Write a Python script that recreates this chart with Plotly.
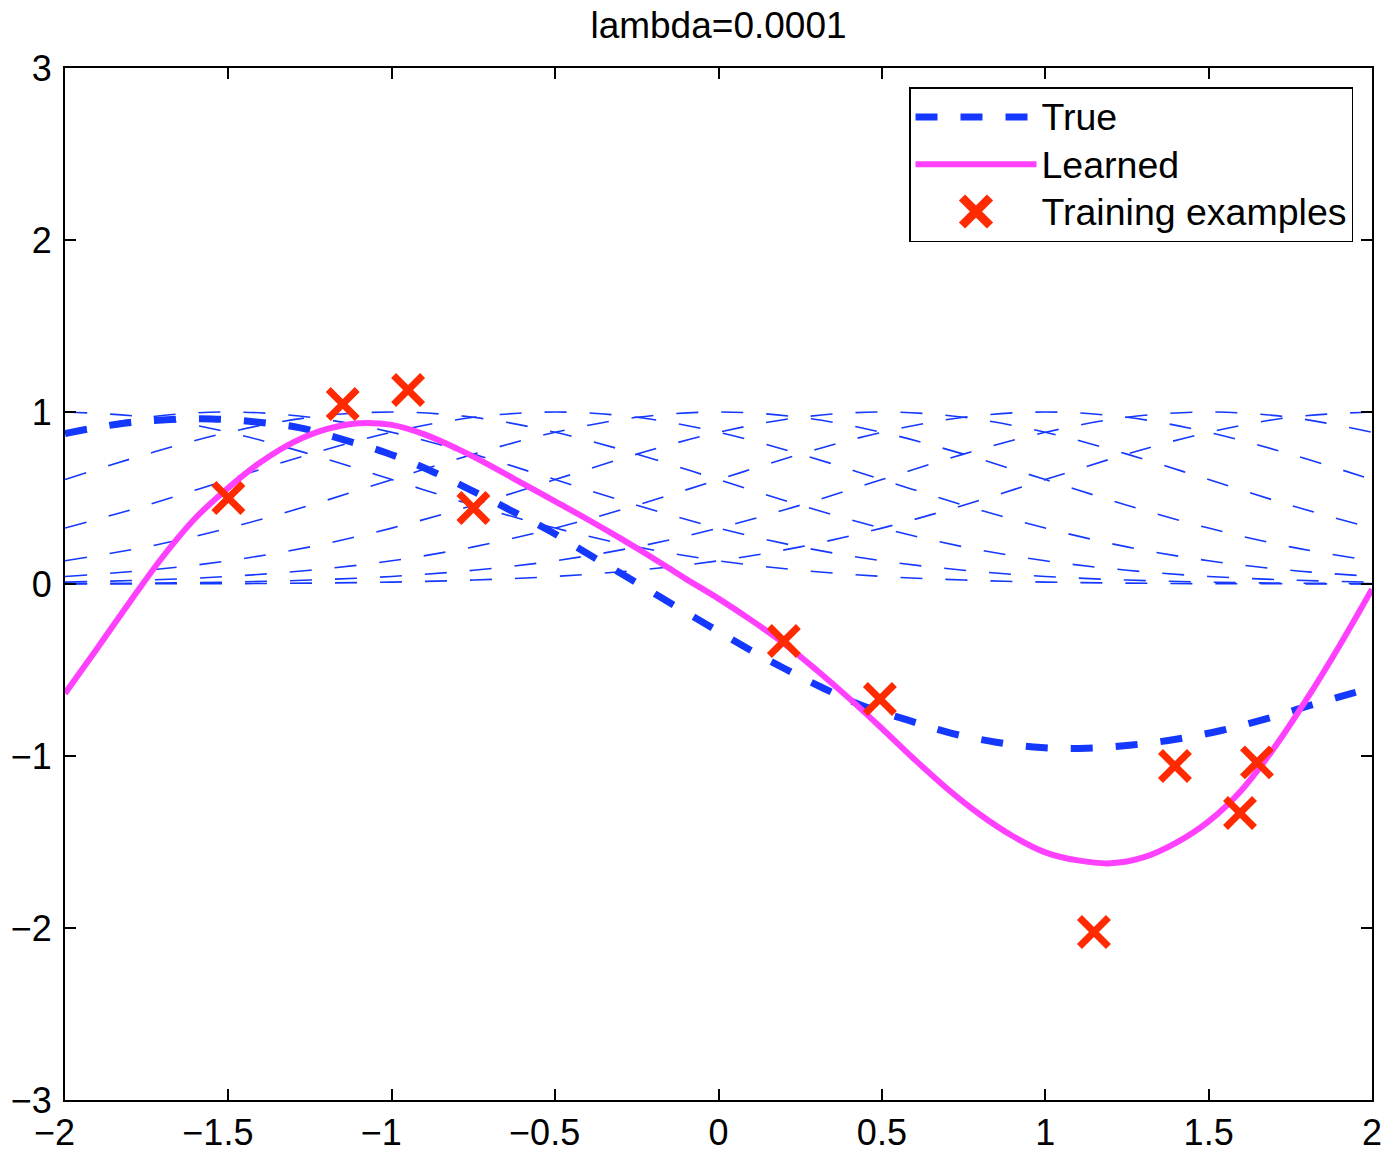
import plotly.graph_objects as go

# ---- data ----
basis_x = [-2.0, -1.75, -1.5, -1.25, -1.0, -0.75, -0.5, -0.25, 0.0,
           0.25, 0.5, 0.75, 1.0, 1.25, 1.5, 1.75, 2.0]

basis_c_m2_0 = [1.000, 0.969, 0.882, 0.755, 0.607, 0.458, 0.325, 0.216, 0.135, 0.080, 0.044, 0.023, 0.011, 0.005, 0.002, 0.001, 0.000]
basis_c_m1_5 = [0.882, 0.969, 1.000, 0.969, 0.882, 0.755, 0.607, 0.458, 0.325, 0.216, 0.135, 0.080, 0.044, 0.023, 0.011, 0.005, 0.002]
basis_c_m1_0 = [0.607, 0.755, 0.882, 0.969, 1.000, 0.969, 0.882, 0.755, 0.607, 0.458, 0.325, 0.216, 0.135, 0.080, 0.044, 0.023, 0.011]
basis_c_m0_5 = [0.325, 0.458, 0.607, 0.755, 0.882, 0.969, 1.000, 0.969, 0.882, 0.755, 0.607, 0.458, 0.325, 0.216, 0.135, 0.080, 0.044]
basis_c_0_0 = [0.135, 0.216, 0.325, 0.458, 0.607, 0.755, 0.882, 0.969, 1.000, 0.969, 0.882, 0.755, 0.607, 0.458, 0.325, 0.216, 0.135]
basis_c_0_5 = [0.044, 0.080, 0.135, 0.216, 0.325, 0.458, 0.607, 0.755, 0.882, 0.969, 1.000, 0.969, 0.882, 0.755, 0.607, 0.458, 0.325]
basis_c_1_0 = [0.011, 0.023, 0.044, 0.080, 0.135, 0.216, 0.325, 0.458, 0.607, 0.755, 0.882, 0.969, 1.000, 0.969, 0.882, 0.755, 0.607]
basis_c_1_5 = [0.002, 0.005, 0.011, 0.023, 0.044, 0.080, 0.135, 0.216, 0.325, 0.458, 0.607, 0.755, 0.882, 0.969, 1.000, 0.969, 0.882]
basis_c_2_0 = [0.000, 0.001, 0.002, 0.005, 0.011, 0.023, 0.044, 0.080, 0.135, 0.216, 0.325, 0.458, 0.607, 0.755, 0.882, 0.969, 1.000]

basis_series = [basis_c_m2_0, basis_c_m1_5, basis_c_m1_0, basis_c_m0_5, basis_c_0_0,
                basis_c_0_5, basis_c_1_0, basis_c_1_5, basis_c_2_0]

true_x = [-2.0, -1.83, -1.69, -1.55, -1.415, -1.28, -1.146, -1.015, -0.886, -0.761,
          -0.638, -0.516, -0.399, -0.28, -0.158, -0.034, 0.077, 0.2, 0.321, 0.435,
          0.58, 0.714, 0.85, 0.988, 1.127, 1.265, 1.40, 1.535, 1.670, 1.805, 1.938, 2.0]
true_y = [0.875, 0.932, 0.955, 0.960, 0.942, 0.908, 0.838, 0.762, 0.663, 0.549,
          0.43, 0.308, 0.174, 0.041, -0.099, -0.238, -0.362, -0.49, -0.606, -0.703,
          -0.792, -0.868, -0.920, -0.951, -0.955, -0.936, -0.903, -0.853, -0.787, -0.709, -0.636, -0.603]

learned_x = [-2.0, -1.9, -1.8, -1.7, -1.6, -1.5, -1.4, -1.3, -1.2, -1.1, -1.0, -0.9, -0.8,
             -0.7, -0.6, -0.5, -0.4, -0.3, -0.2, -0.1, 0.0, 0.1, 0.2, 0.3, 0.4, 0.5, 0.6,
             0.7, 0.8, 0.9, 1.0, 1.1, 1.2, 1.3, 1.4, 1.5, 1.6, 1.7, 1.8, 1.9, 2.0]
learned_y = [-0.636, -0.37, -0.10, 0.16, 0.385, 0.56, 0.71, 0.825, 0.90, 0.935, 0.925, 0.87, 0.787,
             0.69, 0.585, 0.48, 0.375, 0.265, 0.15, 0.03, -0.085, -0.21, -0.345, -0.50, -0.665, -0.84, -1.02,
             -1.19, -1.34, -1.465, -1.56, -1.607, -1.624, -1.59, -1.505, -1.38, -1.20, -0.955, -0.67, -0.36, -0.03]

train_x = [-1.50, -1.15, -0.95, -0.75, 0.20, 0.494, 1.149, 1.397, 1.596, 1.648]
train_y = [0.50, 1.047, 1.128, 0.442, -0.331, -0.669, -2.023, -1.058, -1.331, -1.037]

x_ticks = [-2, -1.5, -1, -0.5, 0, 0.5, 1, 1.5, 2]
x_tick_labels = ["\u22122", "\u22121.5", "\u22121", "\u22120.5", "0", "0.5", "1", "1.5", "2"]
y_ticks = [-3, -2, -1, 0, 1, 2, 3]

series_names = ["True", "Learned", "Training examples"]

FONT = "Liberation Sans, Arial, Helvetica, sans-serif"
BLUE = "#1538ff"
MAGENTA = "#ff40ff"
RED = "#ff2a00"

# MATLAB centres the digits on the tick and lets the minus sign hang to the left:
# pad negative labels with an invisible minus so the digits sit over the tick.
HIDDEN_MINUS = '<span style="color:rgba(0,0,0,0)">\u2212</span>'
x_tick_text = [t + HIDDEN_MINUS if t.startswith("\u2212") else t for t in x_tick_labels]

def legend_label(name):
    return '<span style="font-size:37.5px">' + name + "</span>"

fig = go.Figure()

for ys in basis_series:
    fig.add_trace(go.Scatter(
        x=basis_x, y=ys, mode="lines", showlegend=False, hoverinfo="skip",
        line=dict(color=BLUE, width=1.6, dash="22px,23px", shape="spline", smoothing=1.0),
    ))

fig.add_trace(go.Scatter(
    x=true_x, y=true_y, mode="lines", name=legend_label(series_names[0]),
    line=dict(color=BLUE, width=7, dash="22px,23px", shape="spline", smoothing=1.0),
))
fig.add_trace(go.Scatter(
    x=learned_x, y=learned_y, mode="lines", name=legend_label(series_names[1]),
    line=dict(color=MAGENTA, width=6, shape="spline", smoothing=1.0),
))
fig.add_trace(go.Scatter(
    x=train_x, y=train_y, mode="markers", name=legend_label(series_names[2]),
    marker=dict(symbol="x-thin", size=29, color=RED, line=dict(width=7, color=RED)),
))

axis_common = dict(
    showline=True, linecolor="black", linewidth=2, mirror="ticks",
    ticks="inside", ticklen=11, tickwidth=1.5, tickcolor="black",
    showgrid=False, zeroline=False, automargin=False,
    tickfont=dict(family=FONT, size=36, color="black"),
)

fig.update_layout(
    width=1386, height=1152,
    margin=dict(l=65, r=14, t=68, b=52),
    paper_bgcolor="white", plot_bgcolor="white",
    font=dict(family=FONT, color="black"),
    title=dict(text="lambda=0.0001", x=0.5, xref="paper", xanchor="center",
               y=1 - 25 / 1152, yref="container", yanchor="middle",
               font=dict(family=FONT, size=37, color="black")),
    xaxis=dict(range=[-2, 2], tickmode="array", tickvals=x_ticks, ticktext=x_tick_text,
               **axis_common),
    yaxis=dict(range=[-3, 3], tickmode="array", tickvals=y_ticks, ticklabelstandoff=4,
               **axis_common),
    legend=dict(
        x=(1353 - 65) / 1307, xanchor="right",
        y=(1100 - 87) / 1032, yanchor="top",
        bgcolor="white", bordercolor="black", borderwidth=1.5,
        font=dict(family=FONT, size=34, color="black"),
        itemwidth=121, tracegroupgap=0,
    ),
)

# enlarge the legend's cross so it matches the crosses in the plot
post = """
var gd = document.getElementById('{plot_id}');
gd.querySelectorAll('.legend .legendpoints path.scatterpts').forEach(function(p){
    var t = p.getAttribute('transform') || '';
    p.setAttribute('transform', t + ' scale(1.75)');
});
"""

fig.write_html("out.html", post_script=post)
